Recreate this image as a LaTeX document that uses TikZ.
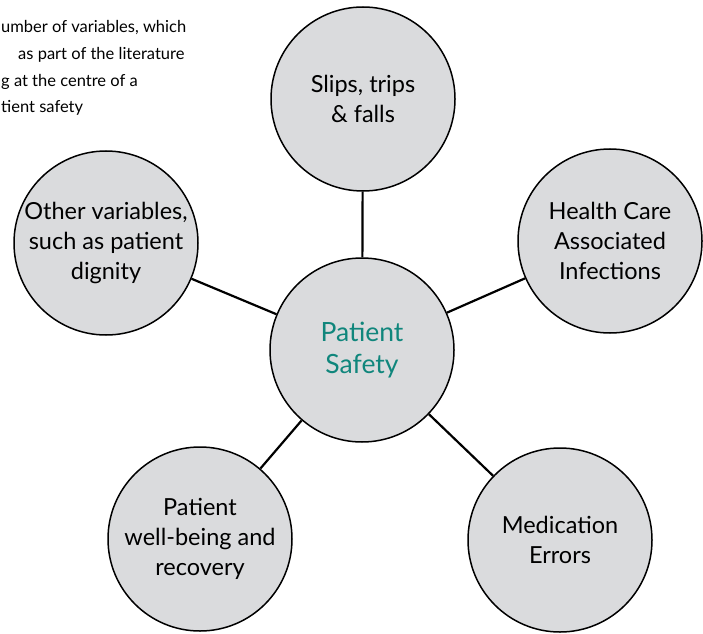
\documentclass[tikz,border=0pt]{standalone}
\usepackage{fontspec}
\setmainfont{Lato}
\definecolor{bubblegrey}{RGB}{218,219,221}
\definecolor{safetyteal}{RGB}{16,134,124}
\tikzset{
  bubble/.style={circle, draw=black, line width=1.5pt, fill=bubblegrey,
    minimum size=184pt, inner sep=0pt, align=center,
    font=\fontsize{23.5}{30}\selectfont},
  spoke/.style={line width=2.2pt},
  note/.style={anchor=base west, inner sep=0pt, font=\fontsize{16.5}{26}\selectfont}
}

\begin{document}
\begin{tikzpicture}[x=1pt,y=1pt]
    %%%%% START %%%%%
    \useasboundingbox (0,0) rectangle (703,633);

    % caption, cut at the left edge
    \node[note] (capa) at (1,600) {umber of variables, which};
    \node[note] (capb) at (18,573) {as part of the literature};
    \node[note] (capc) at (1,546) {g at the centre of a};
    \node[note] (capd) at (1,520) {tient safety};

    % bubbles
    \node[bubble, text=safetyteal, font=\fontsize{26.5}{32}\selectfont] (safety) at (362,283) {Patient\\Safety};
    \node[bubble] (slips) at (363,534) {Slips, trips\\\& falls};
    \node[bubble] (hcai) at (610,392) {Health Care\\Associated\\Infections};
    \node[bubble] (meds) at (560,93) {Medication\\Errors};
    \node[bubble] (wellbeing) at (200,94) {Patient\\well-being and\\recovery};
    \node[bubble] (other) at (106,390) {Other variables,\\such as patient\\dignity};

    % spokes
    \draw[spoke] (safety) -- (slips);
    \draw[spoke] (safety) -- (hcai);
    \draw[spoke] (safety) -- (meds);
    \draw[spoke] (safety) -- (wellbeing);
    \draw[spoke] (safety) -- (other);

    %%%%% END %%%%%
\end{tikzpicture}
\end{document}
